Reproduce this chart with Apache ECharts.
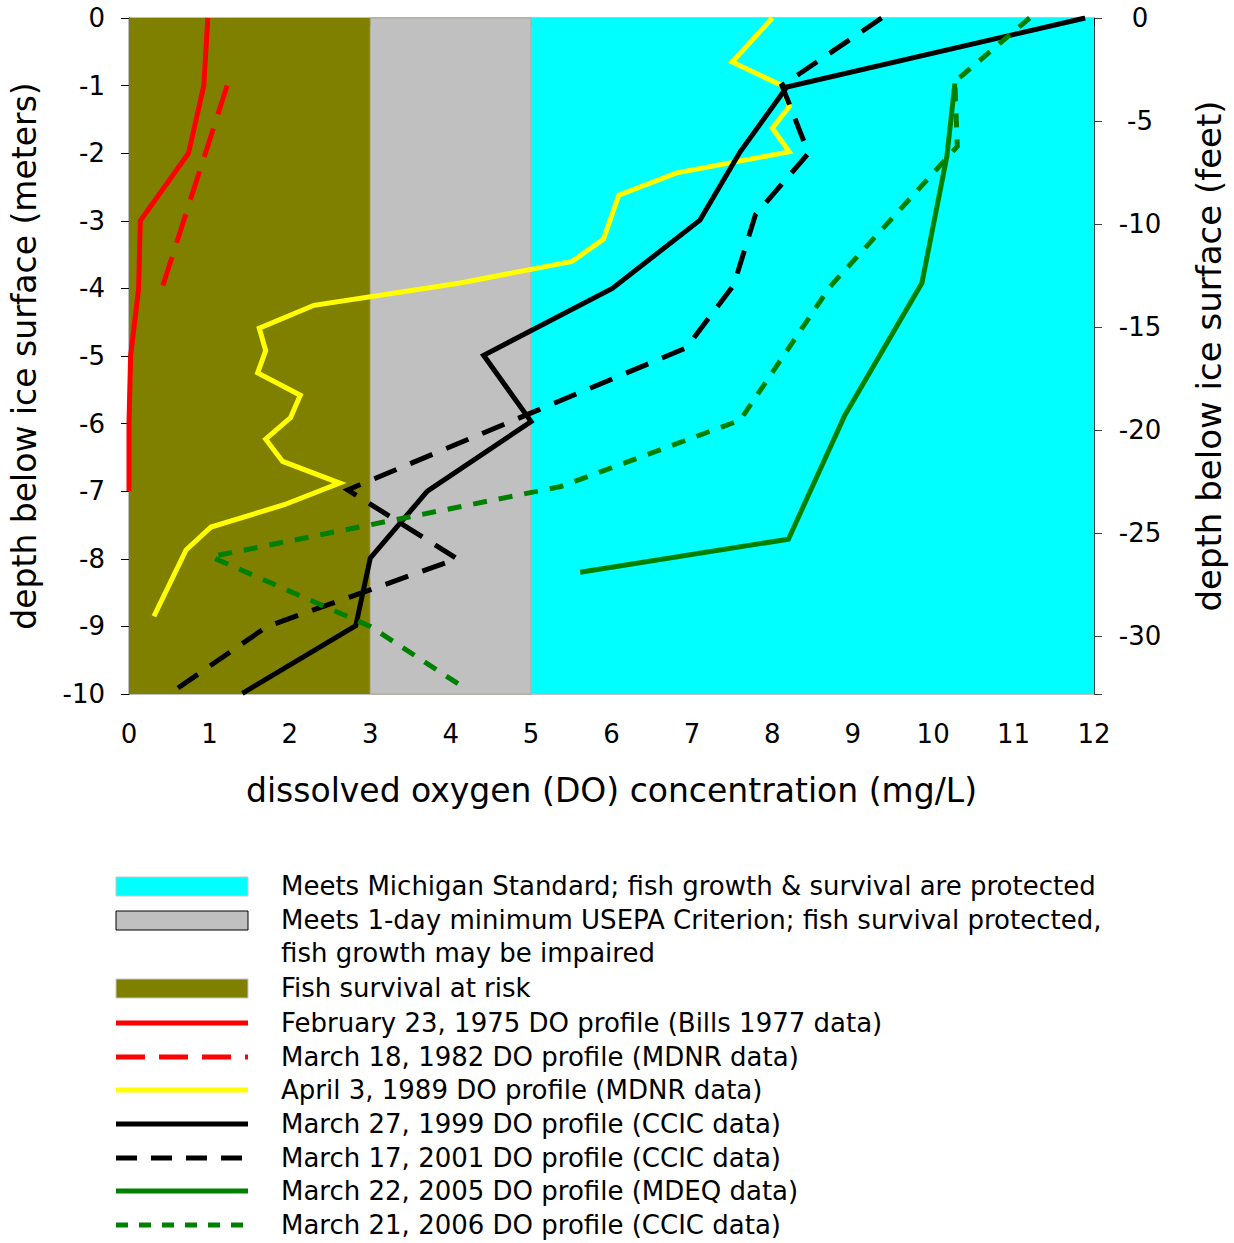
<!DOCTYPE html>
<html>
<head>
<meta charset="utf-8">
<script src="https://cdn.jsdelivr.net/npm/echarts@6/dist/echarts.min.js"></script>
<style>html,body{margin:0;padding:0;background:#fff}#c{width:1234px;height:1243px}</style>
</head>
<body>
<div id="c"></div>
<script>
// Dissolved oxygen profiles: [DO mg/L, depth m]
const feb1975 = [[0.98,0],[0.93,-1],[0.74,-2],[0.14,-3],[0.12,-4],[0.02,-5],[0.0,-6],[0.0,-7]];
const mar1982 = [[1.22,-1],[0.95,-2],[0.68,-3],[0.41,-4]];
const apr1989 = [[8.0,0],[7.5,-0.65],[8.12,-1.0],[8.21,-1.31],[8.0,-1.63],[8.21,-1.98],[6.81,-2.29],[6.09,-2.62],[5.9,-3.27],[5.51,-3.6],[4.12,-3.92],[2.3,-4.25],[1.62,-4.59],[1.70,-4.92],[1.6,-5.25],[2.13,-5.58],[2.01,-5.91],[1.70,-6.23],[1.91,-6.56],[2.62,-6.88],[1.93,-7.2],[1.02,-7.53],[0.71,-7.87],[0.31,-8.85]];
const mar1999 = [[11.89,0],[8.18,-1.02],[7.6,-1.98],[7.1,-2.99],[6.01,-4.0],[4.41,-4.99],[5.0,-5.97],[3.71,-7.0],[3.0,-7.99],[2.82,-8.99],[1.41,-9.99]];
const mar2001 = [[9.36,0],[8.12,-1.0],[8.45,-2.0],[7.79,-2.91],[7.52,-3.95],[6.93,-4.88],[2.72,-6.98],[4.08,-8.0],[1.72,-9.0],[0.5,-10]];
const mar2005 = [[10.27,-0.97],[10.17,-2.05],[9.86,-3.92],[8.9,-5.88],[8.2,-7.71],[5.61,-8.2]];
const mar2006 = [[11.2,0],[10.27,-0.94],[10.3,-1.9],[8.72,-3.97],[7.6,-5.95],[5.37,-6.93],[1.02,-7.97],[3.0,-9.0],[4.21,-9.94]];
// DO bands (mg/L)
const bandRisk = [0, 3];
const bandEPA = [3, 5];
const bandMich = [5, 12];
const feetPerMeter = 1 / 0.3048;

const FONT = '"DejaVu Sans", Verdana, sans-serif';
const legendTexts = [
  'Meets Michigan Standard; fish growth & survival are protected',
  'Meets 1-day minimum USEPA Criterion; fish survival protected,',
  'fish growth may be impaired',
  'Fish survival at risk',
  'February 23, 1975 DO profile (Bills 1977 data)',
  'March 18, 1982 DO profile (MDNR data)',
  'April 3, 1989 DO profile (MDNR data)',
  'March 27, 1999 DO profile (CCIC data)',
  'March 17, 2001 DO profile (CCIC data)',
  'March 22, 2005 DO profile (MDEQ data)',
  'March 21, 2006 DO profile (CCIC data)'
];
const legendY = [886, 920, 953, 988, 1023, 1057, 1090, 1124, 1158, 1191, 1225];

const chart = echarts.init(document.getElementById('c'), null, {renderer: 'svg'});

function lineSeries(name, data, color, dash) {
  return {
    name, type: 'line', data, symbol: 'none', xAxisIndex: 0, yAxisIndex: 0,
    lineStyle: {color, width: 5, type: dash || 'solid', cap: 'butt', join: 'miter'},
    silent: true, z: 3
  };
}

const graphics = [];
graphics.push({type:'rect', shape:{x:116,y:877,width:132,height:19}, style:{fill:'#00FFFF', stroke:'#c8c8c8', lineWidth:1}});
graphics.push({type:'rect', shape:{x:116,y:911,width:132,height:19}, style:{fill:'#C0C0C0', stroke:'#000', lineWidth:1}});
graphics.push({type:'rect', shape:{x:116,y:979,width:132,height:19}, style:{fill:'#808000', stroke:'#c8c8c8', lineWidth:1}});
const legLines = [
  ['#FF0000', null, 1023],
  ['#FF0000', [29,14], 1057],
  ['#FFFF00', null, 1090],
  ['#000000', null, 1124],
  ['#000000', [21,14], 1158],
  ['#008000', null, 1191],
  ['#008000', [12,11], 1225]
];
legLines.forEach(([c, d, y]) => {
  graphics.push({type:'line', shape:{x1:116,y1:y,x2:248,y2:y}, style:{stroke:c, lineWidth:5, lineDash:d || null}});
});
legendTexts.forEach((t, i) => {
  graphics.push({type:'text', x:281, y:legendY[i], style:{text:t, font:'26px ' + FONT, fill:'#000', verticalAlign:'middle', align:'left'}});
});

chart.setOption({
  animation: false,
  grid: {left: 128, right: 140, top: 18, bottom: 549, show: true, borderColor: '#808080', borderWidth: 1},
  xAxis: {
    type: 'value', min: 0, max: 12, interval: 1,
    name: 'dissolved oxygen (DO) concentration (mg/L)', nameLocation: 'middle', nameGap: 80,
    nameTextStyle: {fontFamily: FONT, fontSize: 33, color: '#000'},
    axisLine: {lineStyle: {color: '#000', width: 1}},
    axisTick: {show: true, length: 8, inside: false, lineStyle: {color: '#000'}},
    axisLabel: {fontFamily: FONT, fontSize: 26, color: '#000', margin: 27},
    splitLine: {show: false}
  },
  yAxis: [{
    type: 'value', min: -10, max: 0, interval: 1, position: 'left',
    name: 'depth below ice surface (meters)', nameLocation: 'middle', nameGap: 88,
    nameTextStyle: {fontFamily: FONT, fontSize: 33, color: '#000'},
    axisLine: {show: true, lineStyle: {color: '#000', width: 1}},
    axisTick: {show: true, length: 8, lineStyle: {color: '#000'}},
    axisLabel: {fontFamily: FONT, fontSize: 26, color: '#000', margin: 24},
    splitLine: {show: false}
  }, {
    type: 'value', min: 0, max: 10 * feetPerMeter, interval: 5, inverse: true, position: 'right',
    name: 'depth below ice surface (feet)', nameLocation: 'middle', nameGap: 98, nameRotate: 90,
    nameTextStyle: {fontFamily: FONT, fontSize: 34, color: '#000'},
    axisLine: {show: true, lineStyle: {color: '#404040', width: 1}},
    axisTick: {show: true, length: 8, lineStyle: {color: '#404040'}},
    axisLabel: {fontFamily: FONT, fontSize: 26, color: '#000', margin: 46, align: 'center',
      formatter: v => (Math.abs(v % 5) < 1e-6) ? (v === 0 ? '0' : '-' + v) : ''},
    splitLine: {show: false}
  }],
  series: [
    {
      name: 'bands', type: 'line', data: [], silent: true, z: 1,
      markArea: {
        silent: true,
        data: [
          [{xAxis: bandRisk[0], yAxis: -10, itemStyle: {color: '#808000'}}, {xAxis: bandRisk[1], yAxis: 0}],
          [{xAxis: bandEPA[0], yAxis: -10, itemStyle: {color: '#C0C0C0', borderColor: '#a8a890', borderWidth: 1}}, {xAxis: bandEPA[1], yAxis: 0}],
          [{xAxis: bandMich[0], yAxis: -10, itemStyle: {color: '#00FFFF'}}, {xAxis: bandMich[1], yAxis: 0}]
        ],
        itemStyle: {opacity: 1}
      }
    },
    lineSeries('February 23, 1975 DO profile (Bills 1977 data)', feb1975, '#FF0000'),
    lineSeries('March 18, 1982 DO profile (MDNR data)', mar1982, '#FF0000', [30,15]),
    lineSeries('April 3, 1989 DO profile (MDNR data)', apr1989, '#FFFF00'),
    lineSeries('March 27, 1999 DO profile (CCIC data)', mar1999, '#000000'),
    lineSeries('March 17, 2001 DO profile (CCIC data)', mar2001, '#000000', [24,15]),
    lineSeries('March 22, 2005 DO profile (MDEQ data)', mar2005, '#008000'),
    lineSeries('March 21, 2006 DO profile (CCIC data)', mar2006, '#008000', [14,12])
  ],
  graphic: graphics
});
</script>
</body>
</html>
